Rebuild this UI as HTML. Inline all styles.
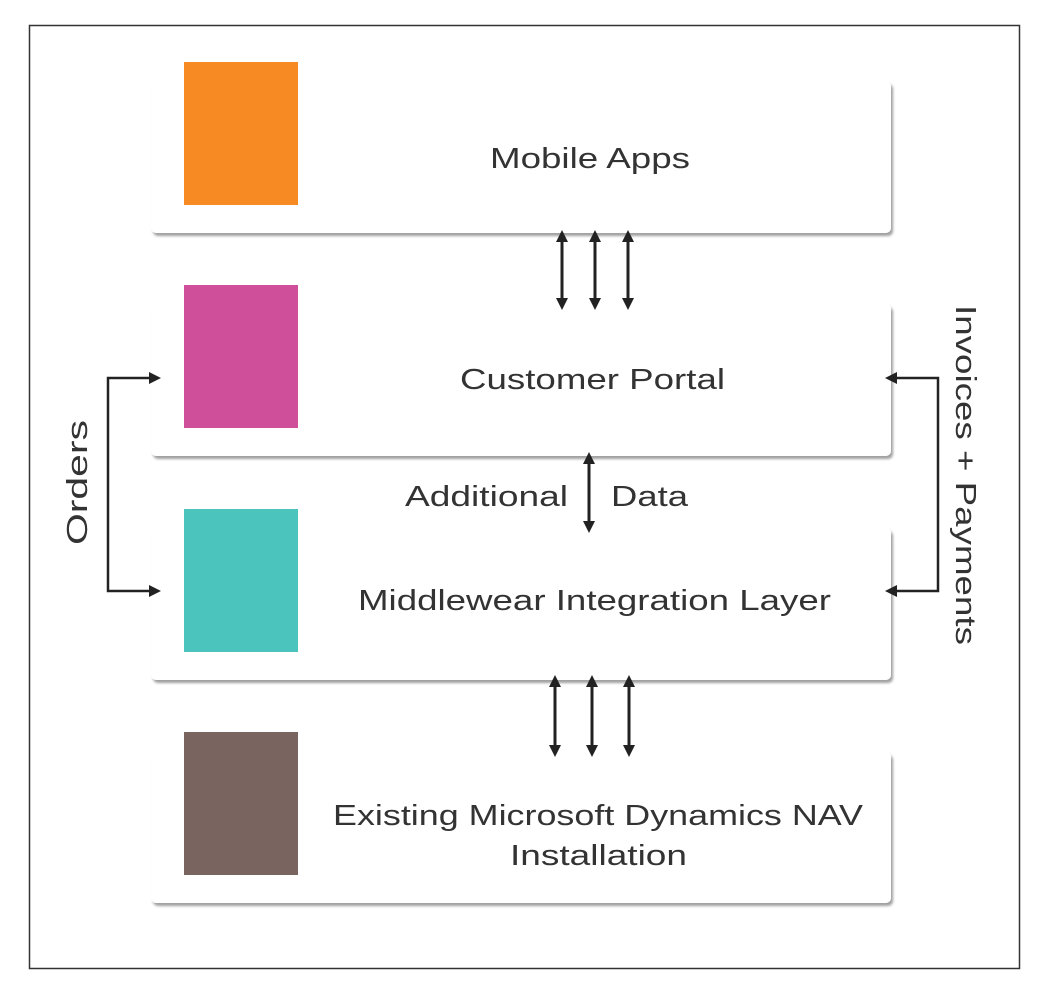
<!DOCTYPE html>
<html><head><style>
body{margin:0;background:#fff;}
svg text{font-family:"Liberation Sans",sans-serif;fill:#333;font-size:29px;}
</style></head><body>
<svg width="1046" height="989" viewBox="0 0 1046 989" xmlns="http://www.w3.org/2000/svg">
<defs>
<marker id="a" markerWidth="12" markerHeight="12" refX="6" refY="6" orient="auto-start-reverse" markerUnits="userSpaceOnUse">
<path d="M0,0 L12,6 L0,12 z" fill="#222"/></marker>
<filter id="s" x="-5%" y="-10%" width="110%" height="125%">
<feDropShadow dx="2" dy="3" stdDeviation="1.2" flood-color="#777" flood-opacity="0.7"/></filter>
</defs>
<rect x="29.5" y="25.5" width="990" height="943" fill="#fff" stroke="#333" stroke-width="1.5"/>
<g fill="#fff" filter="url(#s)">
<rect x="151" y="81" width="740" height="152" rx="5"/>
<rect x="151" y="304" width="740" height="152" rx="5"/>
<rect x="151" y="528" width="740" height="152" rx="5"/>
<rect x="151" y="752" width="740" height="151" rx="5"/>
</g>
<rect x="184" y="62" width="114" height="143" fill="#f78a22"/>
<rect x="184" y="285" width="114" height="143" fill="#cf4f9b"/>
<rect x="184" y="509" width="114" height="143" fill="#4bc4bd"/>
<rect x="184" y="732" width="114" height="143" fill="#7a645f"/>
<g stroke="#222" stroke-width="3" fill="none" marker-start="url(#a)" marker-end="url(#a)">
<line x1="562" y1="236" x2="562" y2="304"/>
<line x1="595" y1="236" x2="595" y2="304"/>
<line x1="628" y1="236" x2="628" y2="304"/>
<line x1="555" y1="681" x2="555" y2="751"/>
<line x1="592" y1="681" x2="592" y2="751"/>
<line x1="629" y1="681" x2="629" y2="751"/>
<line x1="589" y1="458" x2="589" y2="527"/>
</g>
<g stroke="#222" stroke-width="2.5" fill="none">
<path d="M155,378 H108 V591 H155" marker-start="url(#a)" marker-end="url(#a)"/>
<path d="M891,378 H938 V591 H891" marker-start="url(#a)" marker-end="url(#a)"/>
</g>
<text x="490" y="168" textLength="200" lengthAdjust="spacingAndGlyphs">Mobile Apps</text>
<text x="460" y="389" textLength="265" lengthAdjust="spacingAndGlyphs">Customer Portal</text>
<text x="358" y="610" textLength="473" lengthAdjust="spacingAndGlyphs">Middlewear Integration Layer</text>
<text x="333" y="825" textLength="530" lengthAdjust="spacingAndGlyphs">Existing Microsoft Dynamics NAV</text>
<text x="510" y="865" textLength="177" lengthAdjust="spacingAndGlyphs">Installation</text>
<text x="405" y="506" textLength="163" lengthAdjust="spacingAndGlyphs">Additional</text>
<text x="611" y="506" textLength="77" lengthAdjust="spacingAndGlyphs">Data</text>
<text transform="translate(87,545) rotate(-90)" textLength="125" lengthAdjust="spacingAndGlyphs">Orders</text>
<text transform="translate(956,305) rotate(90)" textLength="340" lengthAdjust="spacingAndGlyphs">Invoices + Payments</text>
</svg>
</body></html>
